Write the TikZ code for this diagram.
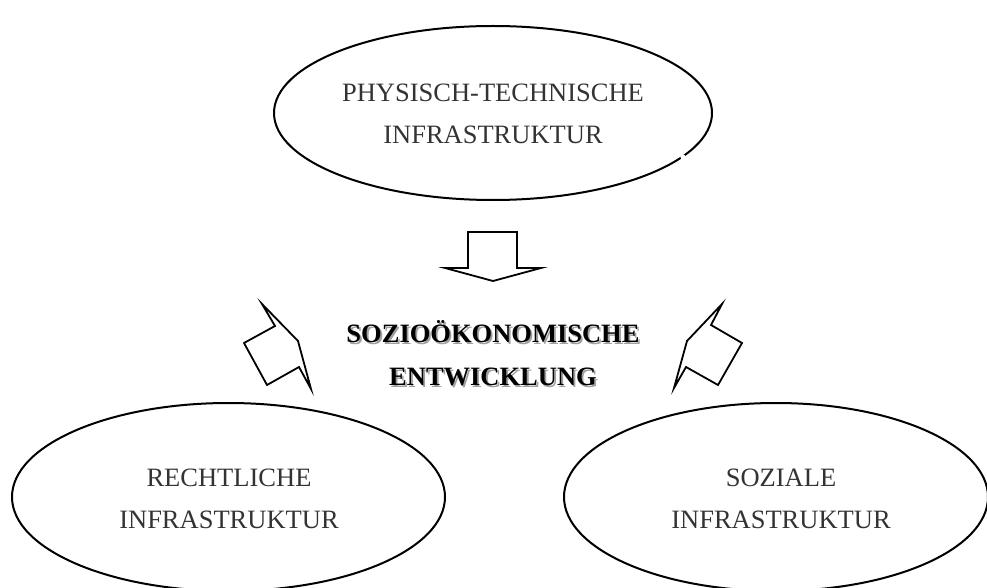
\documentclass[tikz,border=0pt]{standalone}
\usepackage{fontspec}
\setmainfont{Liberation Serif}
\usetikzlibrary{shapes.geometric}
\definecolor{txtgray}{HTML}{333333}
\definecolor{shadowgray}{HTML}{A0A0A0}
\tikzset{
  oval/.style={draw=black, line width=2pt, ellipse, inner sep=0pt},
  label/.style={text=txtgray, font=\fontsize{26.5}{30}\selectfont, inner sep=0pt, anchor=center},
  boldlabel/.style={text=black, font=\fontsize{26.5}{30}\selectfont\bfseries, inner sep=0pt, anchor=center},
  shadowlabel/.style={text=shadowgray, font=\fontsize{26.5}{30}\selectfont\bfseries, inner sep=0pt, anchor=center},
  blockarrow/.style={draw=black, line width=1.8pt, line join=miter, fill=white}
}
\begin{document}
\begin{tikzpicture}[x=1pt,y=-1pt]
\useasboundingbox (0,0) rectangle (987,588);
\clip (0,0) rectangle (987,588);
% ellipses
\node[oval, minimum width=438pt, minimum height=174pt] (top) at (493,113) {};
\fill[white] (683,157) circle (2.6pt);
\node[oval, minimum width=433pt, minimum height=188pt] (left) at (228.5,497) {};
\node[oval, minimum width=424pt, minimum height=188pt] (right) at (776,497) {};
% texts
\node[label] (t1) at (493,93) {PHYSISCH-TECHNISCHE};
\node[label] (t2) at (493,135) {INFRASTRUKTUR};
\node[label] (l1) at (229,478) {RECHTLICHE};
\node[label] (l2) at (229,520) {INFRASTRUKTUR};
\node[label] (r1) at (781,478) {SOZIALE};
\node[label] (r2) at (781,520) {INFRASTRUKTUR};
\node[shadowlabel] at (494.8,333.8) {SOZIOÖKONOMISCHE};
\node[shadowlabel] at (494.8,378.8) {ENTWICKLUNG};
\node[boldlabel] (c1) at (493,332) {SOZIOÖKONOMISCHE};
\node[boldlabel] (c2) at (493,377) {ENTWICKLUNG};
% down arrow
\draw[blockarrow] (468,232) -- (517,232) -- (517,268) -- (541,268) -- (493,281) -- (445,268) -- (468,268) -- cycle;
% left arrow
\draw[blockarrow] (262,304) -- (275,326) -- (244,343) -- (267,385) -- (299,367) -- (311,389) -- (298,341) -- cycle;
% right arrow
\draw[blockarrow] (722,304) -- (711,325) -- (742,343) -- (718,385) -- (686,367) -- (674,388) -- (687,341) -- cycle;
\end{tikzpicture}
\end{document}
